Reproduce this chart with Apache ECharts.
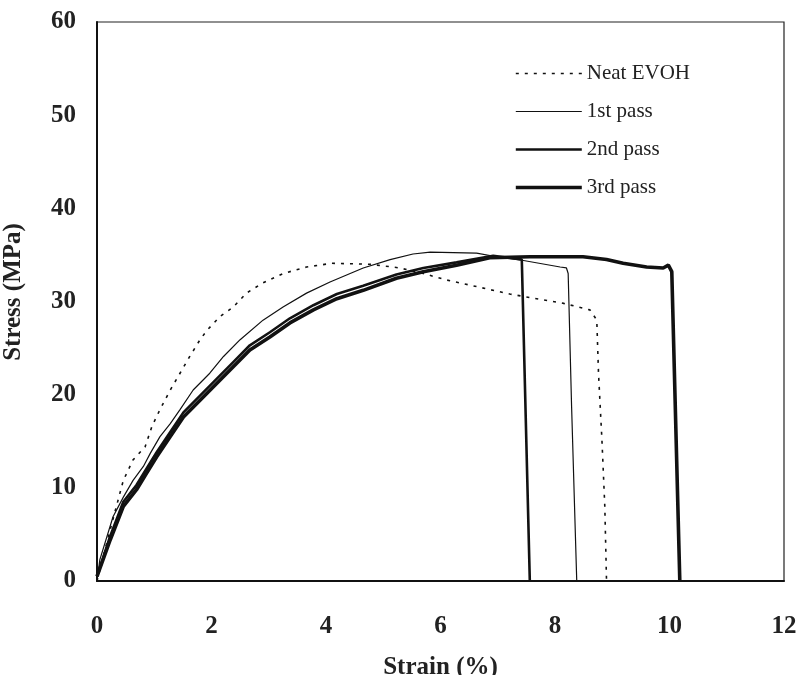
<!DOCTYPE html>
<html><head><meta charset="utf-8">
<script src="https://cdn.jsdelivr.net/npm/echarts@6/dist/echarts.min.js"></script>
<style>html,body{margin:0;padding:0;background:#fff}#c{width:798px;height:675px}</style>
</head><body><div id="c"></div>
<script>
const seriesNames = ['Neat EVOH', '1st pass', '2nd pass', '3rd pass'];
const xTicks = [0, 2, 4, 6, 8, 10, 12];
const yTicks = [0, 10, 20, 30, 40, 50, 60];

const neatX = [0,0.23,0.46,0.63,0.84,0.96,1.10,1.28,1.45,1.62,1.80,1.92,2.15,2.38,2.61,2.90,3.25,3.66,4.10,4.77,5.29,5.70,6.11,6.63,7.21,7.68,8.15,8.61,8.73,8.76,8.82,8.87,8.90];
const neatY = [0,5.5,10.8,13.0,14.4,16.6,18.4,20.5,22.3,24.1,25.9,26.9,28.4,29.4,30.9,32.0,33.0,33.7,34.1,34.0,33.6,33.0,32.3,31.6,30.8,30.3,29.8,29.1,28.0,22.3,15.1,8.0,0];

const pass1X = [0,0.05,0.28,0.46,0.63,0.81,0.93,1.10,1.28,1.45,1.68,1.97,2.21,2.50,2.90,3.25,3.66,4.07,4.65,5.12,5.52,5.82,6.63,6.98,7.45,8.09,8.20,8.23,8.29,8.38];
const pass1Y = [0,2.3,6.9,9.0,10.8,12.3,13.7,15.5,16.9,18.4,20.5,22.3,24.1,25.9,28.0,29.4,30.9,32.1,33.6,34.5,35.1,35.3,35.2,34.8,34.4,33.7,33.6,33.0,18.7,0];

const pass2X = [0,0.23,0.46,0.69,0.87,1.04,1.28,1.51,1.80,2.09,2.38,2.67,3.02,3.37,3.78,4.19,4.65,5.23,5.70,6.28,6.92,7.42,7.56];
const pass2Y = [0.5,4.8,8.5,10.3,12.1,13.8,16.0,18.1,19.9,21.7,23.5,25.3,26.7,28.2,29.6,30.8,31.7,32.9,33.6,34.2,34.9,34.5,0];

const pass3X = [0,0.23,0.46,0.69,0.87,1.04,1.28,1.51,1.80,2.09,2.38,2.67,3.02,3.37,3.78,4.19,4.65,5.23,5.70,6.28,6.86,7.56,8.49,8.90,9.19,9.60,9.89,9.98,10.04,10.18];
const pass3Y = [0.5,4.4,8.0,9.8,11.6,13.3,15.5,17.6,19.4,21.2,23.0,24.8,26.2,27.7,29.1,30.3,31.2,32.5,33.2,33.9,34.7,34.8,34.8,34.5,34.1,33.7,33.6,33.9,33.2,0];

const widths = [1.6, 1.2, 2.6, 3.6];
const types = [[3, 6], 'solid', 'solid', 'solid'];

const pairs = (xs, ys) => xs.map((x, i) => [x, ys[i]]);
const font = '"Liberation Serif", "Times New Roman", serif';

const chart = echarts.init(document.getElementById('c'), null, {renderer: 'canvas'});
const mk = (i, xs, ys) => ({
  name: seriesNames[i], type: 'line', data: pairs(xs, ys), symbol: 'none', smooth: false,
  lineStyle: {color: '#111', width: widths[i], type: types[i]}, itemStyle: {color: '#111'}, z: 3
});
chart.setOption({
  animation: false,
  backgroundColor: '#fff',
  grid: {left: 97, right: 14, top: 22, bottom: 94, containLabel: false, outerBoundsMode: 'none',
    show: true, borderColor: '#222', borderWidth: 1.2, backgroundColor: 'transparent'},
  legend: {
    orient: 'vertical', left: 509, top: 58, itemWidth: 66, itemHeight: 20, itemGap: 17,
    textStyle: {fontFamily: font, fontSize: 21, color: '#222'},
    itemStyle: {opacity: 0},
    data: seriesNames.map((n, i) => ({name: n, lineStyle: {width: i === 0 ? 1.4 : widths[i], type: types[i], color: '#111'}, itemStyle: {opacity: 0}}))
  },
  xAxis: {
    type: 'value', min: 0, max: 12, interval: 2,
    name: 'Strain (%)', nameLocation: 'middle', nameGap: 74,
    nameTextStyle: {fontFamily: font, fontSize: 25, fontWeight: 'bold', color: '#222'},
    axisLine: {show: true, onZero: false, lineStyle: {color: '#111', width: 2}},
    axisTick: {show: false}, splitLine: {show: false},
    axisLabel: {fontFamily: font, fontSize: 25, fontWeight: 'bold', color: '#222', margin: 33,
      formatter: v => xTicks.includes(v) ? String(v) : ''}
  },
  yAxis: {
    type: 'value', min: 0, max: 60, interval: 10,
    name: 'Stress (MPa)', nameLocation: 'middle', nameGap: 71,
    nameTextStyle: {fontFamily: font, fontSize: 25, fontWeight: 'bold', color: '#222', padding: [0, 0, 0, 19]},
    axisLine: {show: true, onZero: false, lineStyle: {color: '#111', width: 2}},
    axisTick: {show: false}, splitLine: {show: false},
    axisLabel: {fontFamily: font, fontSize: 25, fontWeight: 'bold', color: '#222', margin: 21,
      formatter: v => yTicks.includes(v) ? String(v) : ''}
  },
  series: [
    mk(0, neatX, neatY),
    mk(1, pass1X, pass1Y),
    mk(2, pass2X, pass2Y),
    mk(3, pass3X, pass3Y)
  ]
});
</script></body></html>
